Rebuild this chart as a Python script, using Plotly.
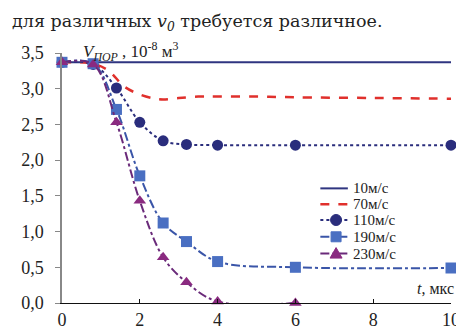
import plotly.graph_objects as go

t_markers = [0, 0.8, 1.4, 2.0, 2.6, 3.2, 4.0, 6.0, 10.0]
v10_t = [0, 10]
v10 = [3.37, 3.37]
v70_t = [0, 0.8, 1.2, 1.6, 2.0, 2.4, 2.6, 3.0, 3.5, 4.0, 5.0, 6.0, 8.0, 10.0]
v70 = [3.37, 3.35, 3.25, 3.03, 2.92, 2.86, 2.85, 2.87, 2.89, 2.89, 2.89, 2.88, 2.87, 2.86]
v110 = [3.37, 3.34, 3.01, 2.53, 2.27, 2.22, 2.21, 2.21, 2.21]
v190 = [3.37, 3.35, 2.71, 1.78, 1.12, 0.86, 0.58, 0.50, 0.49]
v230_t = [0, 0.8, 1.4, 2.0, 2.6, 3.2, 4.0, 6.0]
v230 = [3.37, 3.34, 2.53, 1.43, 0.64, 0.29, 0.02, 0.0]

names = ["10м/с", "70м/с", "110м/с", "190м/с", "230м/с"]
x_ticks = [0, 2, 4, 6, 8, 10]
y_ticks = [0, 0.5, 1.0, 1.5, 2.0, 2.5, 3.0, 3.5]

SERIF = "Liberation Serif, Times New Roman, serif"

styles = [
    dict(line=dict(color="#2f3580", width=2), marker=None),
    dict(line=dict(color="#e0302c", width=2.5, dash="dash"), marker=None),
    dict(line=dict(color="#2a2d7c", width=2, dash="dot"),
         marker=dict(symbol="circle", size=11, color="#2a2d7c")),
    dict(line=dict(color="#3a55a8", width=2, dash="dashdot"),
         marker=dict(symbol="square", size=11, color="#4a6fc2")),
    dict(line=dict(color="#6a2a7a", width=2, dash="dashdot"),
         marker=dict(symbol="triangle-up", size=11, color="#8a2a80")),
]
xs = [v10_t, v70_t, t_markers, t_markers, v230_t]
ys = [v10, v70, v110, v190, v230]

fig = go.Figure()
for i in range(5):
    st = styles[i]
    ln = dict(st["line"])
    if i > 0:
        ln["shape"] = "spline"
    kw = dict(x=xs[i], y=ys[i], name=names[i], line=ln, cliponaxis=False,
              showlegend=False)
    if st["marker"]:
        kw["mode"] = "lines+markers"
        kw["marker"] = st["marker"]
    else:
        kw["mode"] = "lines"
    fig.add_trace(go.Scatter(**kw))

# manual compact legend (reference spacing is tighter than plotly's legend allows)
def px_x(p):
    return (p - 54) / 396

def px_y(p):
    return (298 - p) / 253

shapes = []
annotations = []
row_y = [182, 198, 214, 231, 248]
dash_map = {"dash": "dash", "dot": "dot", "dashdot": "dashdot", None: "solid"}
for i in range(5):
    st = styles[i]
    yy = px_y(row_y[i])
    shapes.append(dict(type="line", xref="paper", yref="paper",
                       x0=px_x(317), x1=px_x(345), y0=yy, y1=yy,
                       line=dict(color=st["line"]["color"], width=st["line"]["width"],
                                 dash=dash_map[st["line"].get("dash")])))
    m = st["marker"]
    if m:
        common = dict(xref="paper", yref="paper", xsizemode="pixel", ysizemode="pixel",
                      xanchor=px_x(333), yanchor=yy, fillcolor=m["color"],
                      line=dict(color=m["color"], width=1))
        if m["symbol"] == "circle":
            shapes.append(dict(type="circle", x0=-5.5, x1=5.5, y0=-5.5, y1=5.5, **common))
        elif m["symbol"] == "square":
            shapes.append(dict(type="rect", x0=-5, x1=5, y0=-5, y1=5, **common))
        else:
            shapes.append(dict(type="path", path="M -6,-4.5 L 6,-4.5 L 0,6 Z", **common))
    annotations.append(dict(text=names[i], xref="paper", yref="paper", x=px_x(349), y=yy,
                            xanchor="left", yanchor="middle", showarrow=False,
                            height=16, borderpad=0,
                            font=dict(family=SERIF, size=15, color="#222")))

annotations += [
    dict(text="для различных <i>v</i><sub><i>0</i></sub> требуется различное.",
         xref="paper", yref="paper", x=px_x(1), y=px_y(14), xanchor="left", yanchor="middle",
         showarrow=False, font=dict(family="DejaVu Serif", size=17.5, color="#222")),
    dict(text="<i>V</i><sub><i>ПОР</i></sub> , 10<sup>-8</sup> м<sup>3</sup>",
         xref="paper", yref="paper", x=px_x(73), y=px_y(43),
         xanchor="left", yanchor="middle", showarrow=False,
         font=dict(family=SERIF, size=17, color="#222")),
    dict(text="<i>t</i>, мкс", xref="paper", yref="paper", x=px_x(414),
         y=px_y(283), xanchor="left", yanchor="middle", showarrow=False, borderpad=0,
         font=dict(family=SERIF, size=16, color="#222")),
]

fig.update_layout(
    width=464, height=334,
    margin=dict(l=54, r=14, t=45, b=36),
    paper_bgcolor="white", plot_bgcolor="white",
    separators=", ",
    font=dict(family=SERIF, size=17, color="#222"),
    showlegend=False,
    xaxis=dict(range=[0, 10], tickvals=x_ticks, showgrid=False, zeroline=False,
               showline=True, linecolor="#111", linewidth=1.2,
               ticks="inside", ticklen=4, tickcolor="#111",
               tickfont=dict(size=18, family=SERIF)),
    yaxis=dict(range=[0, 3.5], tickvals=y_ticks, tickformat=".1f", showgrid=False,
               zeroline=False, showline=True, linecolor="#888", linewidth=1.5,
               ticks="outside", ticklen=5, tickcolor="#888", ticklabelstandoff=8,
               tickfont=dict(size=18, family=SERIF)),
    shapes=shapes,
    annotations=annotations,
)

fig.write_html("out.html")
